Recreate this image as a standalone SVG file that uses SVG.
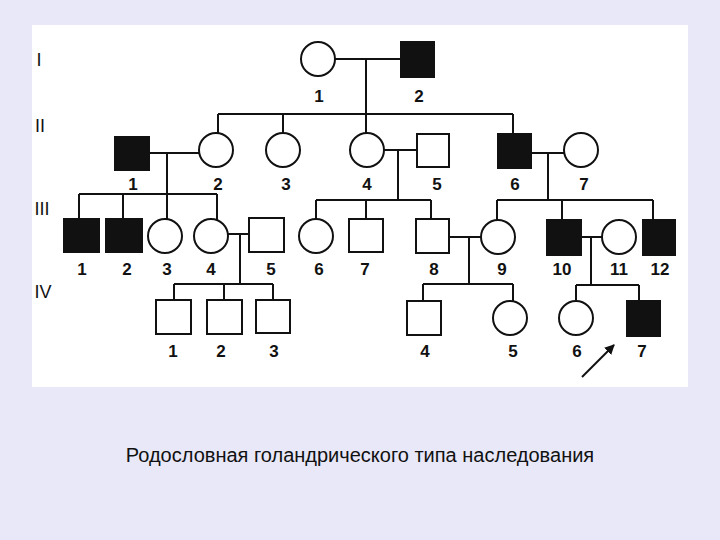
<svg xmlns="http://www.w3.org/2000/svg" width="720" height="540" viewBox="0 0 720 540">
<style>
.o{fill:#fff;stroke:#111;stroke-width:2}
.f{fill:#111;stroke:#111;stroke-width:2}
.ln{stroke:#111;stroke-width:2;fill:none}
.lb{font-family:"Liberation Sans",Arial,sans-serif;font-size:17px;font-weight:bold;fill:#111;text-anchor:middle}
.gn{font-family:"Liberation Sans",Arial,sans-serif;font-size:18px;fill:#111;text-anchor:middle}
.cap{font-family:"Liberation Sans",Arial,sans-serif;font-size:20px;fill:#111;text-anchor:middle}
</style>
<defs>
<marker id="ah" viewBox="0 0 10 10" refX="9" refY="5" markerWidth="5" markerHeight="5" orient="auto">
<path d="M0,0 L10,5 L0,10 z" fill="#111"/>
</marker>
</defs>
<rect x="0" y="0" width="720" height="540" fill="#e8e8f8"/>
<rect x="32" y="25" width="656" height="362" fill="#fff"/>
<g id="generations">
<text class="gn" x="39" y="66">I</text>
<text class="gn" x="40" y="132">II</text>
<text class="gn" x="42" y="215">III</text>
<text class="gn" x="43" y="298">IV</text>
</g>
<g id="connectors">
<path class="ln" d="M335,59 H401 M366,59 V114 M218,114 H513 M218,114 V133 M283,114 V133 M366,114 V133 M513,114 V134"/>
<path class="ln" d="M149,153 H199 M167,153 V194 M79,194 H217 M79,194 V219 M123,194 V219 M167,194 V219 M217,194 V220"/>
<path class="ln" d="M384,150 H417 M398,150 V200 M316,200 H431 M316,200 V220 M366,200 V219 M431,200 V219"/>
<path class="ln" d="M531,153 H564 M548,153 V200 M497,200 H653 M497,200 V220 M562,200 V220 M653,200 V220"/>
<path class="ln" d="M228,234 H249 M240,234 V284 M174,284 H273 M174,284 V300 M224,284 V300 M273,284 V300"/>
<path class="ln" d="M449,237 H481 M469,237 V284 M423,284 H513 M423,284 V301 M513,284 V301"/>
<path class="ln" d="M581,237 H602 M591,237 V285 M576,285 H639 M576,285 V301 M639,285 V301"/>
<line class="ln" x1="582" y1="377" x2="614" y2="345" marker-end="url(#ah)"/>
</g>
<g id="I-1"><circle class="o" cx="318" cy="59" r="17"/><text class="lb" x="319" y="102">1</text></g>
<g id="I-2"><rect class="f" x="401" y="42" width="33" height="35"/><text class="lb" x="419" y="102">2</text></g>
<g id="II-1"><rect class="f" x="115" y="137" width="34" height="33"/><text class="lb" x="133" y="190">1</text></g>
<g id="II-2"><circle class="o" cx="216" cy="150" r="17"/><text class="lb" x="218" y="190">2</text></g>
<g id="II-3"><circle class="o" cx="283" cy="150" r="17"/><text class="lb" x="286" y="190">3</text></g>
<g id="II-4"><circle class="o" cx="367" cy="150" r="17"/><text class="lb" x="367" y="190">4</text></g>
<g id="II-5"><rect class="o" x="417" y="134" width="32" height="33"/><text class="lb" x="437" y="190">5</text></g>
<g id="II-6"><rect class="f" x="498" y="134" width="33" height="34"/><text class="lb" x="515" y="190">6</text></g>
<g id="II-7"><circle class="o" cx="581" cy="150" r="17"/><text class="lb" x="584" y="190">7</text></g>
<g id="III-1"><rect class="f" x="64" y="219" width="35" height="33"/><text class="lb" x="82" y="275">1</text></g>
<g id="III-2"><rect class="f" x="106" y="219" width="36" height="33"/><text class="lb" x="127" y="275">2</text></g>
<g id="III-3"><circle class="o" cx="165" cy="236" r="17"/><text class="lb" x="167" y="275">3</text></g>
<g id="III-4"><circle class="o" cx="211" cy="236" r="17"/><text class="lb" x="211" y="275">4</text></g>
<g id="III-5"><rect class="o" x="249" y="218" width="35" height="34"/><text class="lb" x="271" y="275">5</text></g>
<g id="III-6"><circle class="o" cx="316" cy="236" r="17"/><text class="lb" x="319" y="275">6</text></g>
<g id="III-7"><rect class="o" x="349" y="219" width="34" height="33"/><text class="lb" x="365" y="275">7</text></g>
<g id="III-8"><rect class="o" x="416" y="219" width="33" height="34"/><text class="lb" x="434" y="275">8</text></g>
<g id="III-9"><circle class="o" cx="498" cy="237" r="17"/><text class="lb" x="502" y="275">9</text></g>
<g id="III-10"><rect class="f" x="547" y="220" width="34" height="35"/><text class="lb" x="562" y="275">10</text></g>
<g id="III-11"><circle class="o" cx="619" cy="237" r="17"/><text class="lb" x="619" y="275">11</text></g>
<g id="III-12"><rect class="f" x="643" y="220" width="32" height="35"/><text class="lb" x="660" y="275">12</text></g>
<g id="IV-1"><rect class="o" x="156" y="300" width="35" height="34"/><text class="lb" x="173" y="357">1</text></g>
<g id="IV-2"><rect class="o" x="207" y="300" width="35" height="34"/><text class="lb" x="221" y="357">2</text></g>
<g id="IV-3"><rect class="o" x="256" y="300" width="34" height="33"/><text class="lb" x="274" y="357">3</text></g>
<g id="IV-4"><rect class="o" x="407" y="301" width="34" height="34"/><text class="lb" x="425" y="357">4</text></g>
<g id="IV-5"><circle class="o" cx="510" cy="318" r="17"/><text class="lb" x="513" y="357">5</text></g>
<g id="IV-6"><circle class="o" cx="576" cy="318" r="17"/><text class="lb" x="577" y="357">6</text></g>
<g id="IV-7"><rect class="f" x="627" y="301" width="33" height="35"/><text class="lb" x="642" y="357">7</text></g>
<text class="cap" x="360" y="462">Родословная голандрического типа наследования</text>
</svg>
